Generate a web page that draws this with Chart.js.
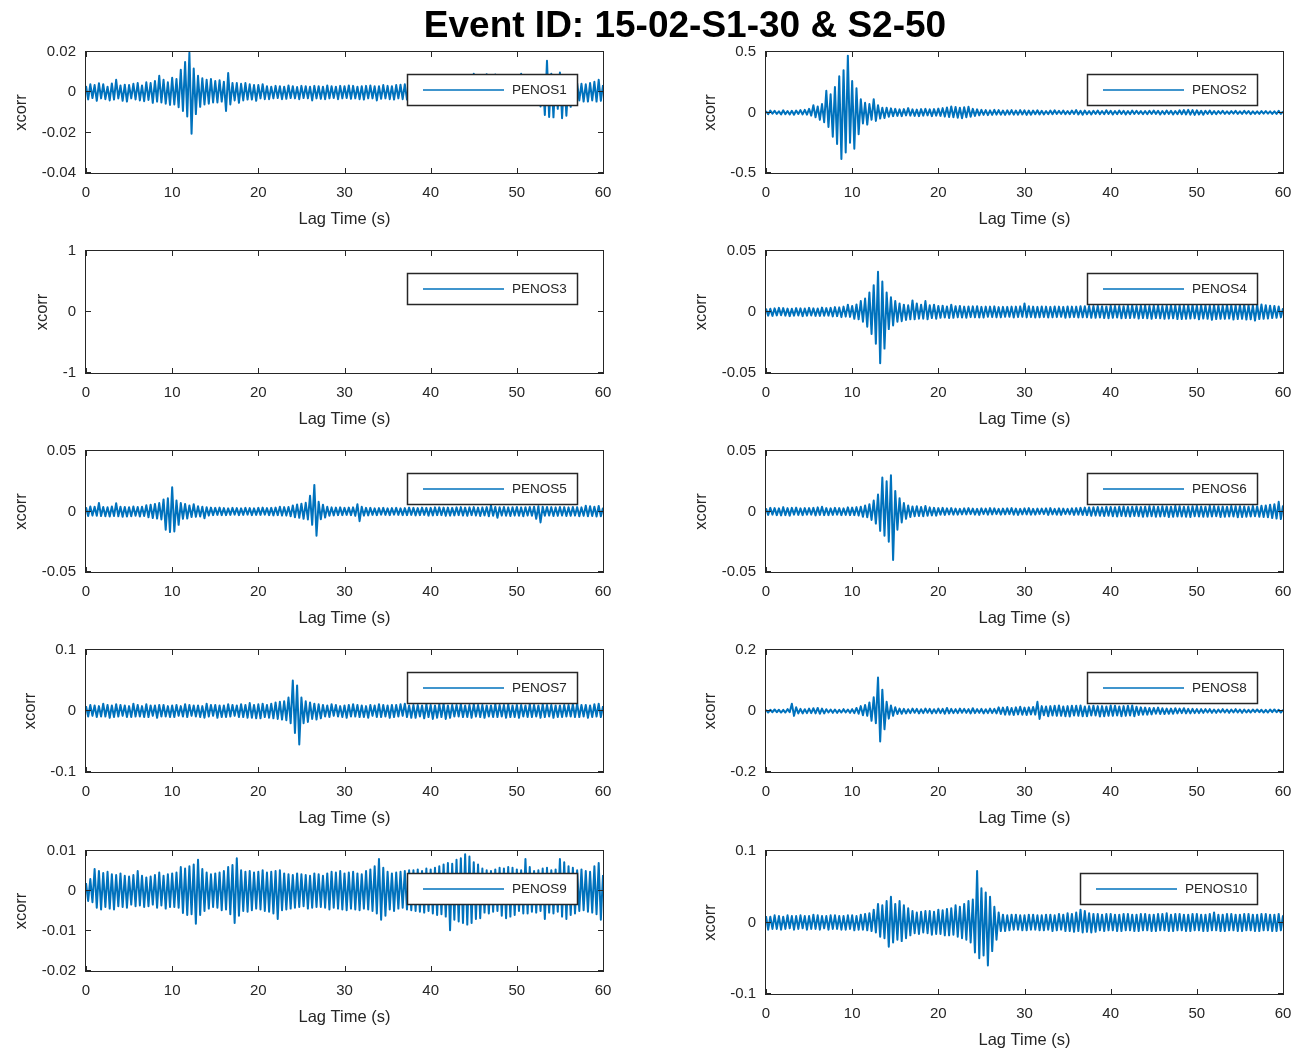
<!DOCTYPE html>
<html><head><meta charset="utf-8">
<script src="https://cdn.jsdelivr.net/npm/chart.js@4.4.1/dist/chart.umd.min.js"></script>
<style>
html,body{margin:0;padding:0;background:#fff;width:1298px;height:1052px;overflow:hidden;position:relative;}
canvas{position:absolute;}
#title{position:absolute;left:0;width:1370px;top:7px;line-height:36px;text-align:center;font-weight:bold;font-size:37px;font-family:"Liberation Sans",Arial,Helvetica,sans-serif;color:#000;z-index:5;}
</style></head><body>
<div id="title">Event ID: 15-02-S1-30 &amp; S2-50</div>
<script>
// ---- data: xcorr samples every 0.25 s from 0 to 60 s (values in the listed unit) ----
const lagStep = 0.25;
const xTicks = [0,10,20,30,40,50,60];

const unit1 = 1e-4;
const penos1 = [
32,-35,40,-28, 36,-42,45,-30, 40,-34,28,-40, 44,-36,62,-30, 34,-42,38,-46,
36,-30,42,-35, 46,-40,34,-44, 50,-38,46,-52, 56,-46,82,-50, 62,-56,50,-62,
72,-60,66,-74, 112,-92,150,-120, 196,-205,118,-108, 82,-72,70,-60, 62,-56,66,-50,
56,-50,60,-46, 52,-92,96,-60, 46,-40,46,-52, 42,-40,46,-36, 40,-36,36,-42,
36,-30,40,-34, 30,-34,28,-30, 32,-28,30,-34, 28,-32,34,-28, 30,-30,26,-34,
32,-28,30,-30, 28,-40,32,-30, 30,-32,28,-34, 34,-30,30,-28, 28,-34,32,-30,
30,-28,34,-32, 32,-30,28,-34, 30,-36,32,-30, 34,-30,30,-40, 30,-32,36,-30,
32,-34,30,-36, 36,-30,38,-34, 40,-36,42,-38, 44,-40,40,-42, 42,-44,46,-40,
46,-42,44,-46, 48,-44,50,-42, 46,-48,52,-44, 50,-46,48,-50, 52,-48,56,-46,
92,-50,54,-52, 56,-54,90,-50, 54,-52,88,-56, 58,-54,56,-52, 86,-56,60,-54,
58,-58,92,-56, 60,-56,58,-60, 56,-62,64,-70, 72,-112,156,-122, 92,-124,86,-82,
98,-128,82,-116, 62,-72,52,-46, 46,-40,42,-46, 40,-46,46,-40, 52,-46,62,-42, 36];

const unit2 = 1e-3;
const penos2 = [
12,-14,16,-10, 14,-12,10,-16, 18,-14,12,-16, 14,-18,16,-12, 20,-16,22,-18,
30,-26,60,-40, 50,-60,70,-80, 180,-120,150,-200, 210,-260,300,-385, 350,-330,470,-250,
260,-300,200,-180, 110,-90,80,-100, 70,-60,110,-70, 60,-50,40,-45, 40,-36,34,-30,
30,-28,26,-30, 28,-24,36,-26, 26,-28,24,-30, 28,-26,30,-24, 26,-30,28,-26,
32,-28,36,-34, 42,-38,50,-40, 46,-44,40,-48, 44,-40,48,-36, 30,-28,26,-24,
22,-20,20,-22, 18,-20,22,-18, 20,-18,16,-20, 18,-16,20,-18, 16,-18,20,-16,
18,-20,16,-18, 16,-14,18,-16, 14,-16,12,-14, 16,-14,18,-12, 14,-12,16,-14,
12,-14,16,-12, 20,-16,14,-18, 16,-14,12,-16, 14,-12,16,-14, 12,-14,18,-12,
14,-16,12,-14, 16,-12,14,-16, 12,-14,16,-12, 14,-12,12,-14, 12,-14,14,-12,
16,-12,14,-16, 12,-14,16,-12, 14,-16,12,-14, 18,-14,20,-16, 22,-18,20,-20,
18,-16,14,-18, 14,-12,16,-14, 12,-14,12,-10, 14,-12,10,-12, 12,-10,14,-12,
10,-12,14,-10, 12,-14,10,-12, 10,-12,12,-10, 12,-10,10,-12, 10,-12,14,-12, 8];

const unit3 = 1;
const penos3 = [];

const unit4 = 1e-4;
const penos4 = [
28,-30,26,-32, 30,-28,34,-26, 32,-30,28,-34, 26,-30,32,-28, 30,-34,28,-30,
34,-28,30,-32, 28,-32,36,-30, 32,-30,34,-36, 40,-34,38,-42, 44,-38,60,-40,
50,-56,62,-60, 90,-80,110,-120, 160,-180,220,-260, 330,-420,250,-300, 160,-140,120,-110,
90,-80,70,-75, 60,-65,55,-60, 95,-60,70,-55, 60,-55,90,-60, 55,-50,60,-55,
50,-48,52,-46, 46,-50,60,-48, 48,-44,50,-46, 44,-48,46,-42, 46,-44,48,-46,
42,-46,44,-40, 44,-42,46,-44, 40,-44,42,-40, 42,-40,44,-46, 44,-42,46,-40,
70,-44,48,-42, 44,-46,42,-44, 46,-42,44,-46, 42,-44,46,-42, 44,-40,42,-48,
46,-44,44,-42, 44,-46,48,-44, 48,-44,50,-48, 50,-48,52,-46, 48,-50,46,-52,
52,-48,50,-46, 50,-52,48,-50, 52,-50,54,-48, 50,-54,52,-50, 54,-52,50,-56,
52,-50,54,-52, 50,-56,52,-54, 56,-52,54,-58, 54,-58,52,-56, 56,-54,58,-52,
52,-60,56,-54, 54,-56,52,-64, 56,-58,54,-56, 52,-56,58,-54, 56,-62,54,-58,
58,-56,60,-62, 56,-60,54,-70, 60,-58,62,-56, 56,-54,52,-50, 50,-48,46,-44, 30];

const unit5 = 1e-4;
const penos5 = [
36,-38,42,-34, 40,-36,70,-38, 38,-40,36,-42, 42,-38,68,-40, 40,-44,38,-42,
36,-40,42,-36, 38,-42,40,-38, 52,-48,56,-54, 62,-58,70,-66, 100,-150,110,-170,
200,-165,90,-110, 70,-60,62,-58, 50,-46,60,-44, 44,-42,40,-56, 36,-34,32,-30,
30,-28,32,-30, 28,-30,26,-28, 30,-26,28,-30, 26,-28,30,-26, 28,-30,26,-28,
30,-28,32,-26, 28,-30,30,-32, 32,-30,40,-34, 36,-34,38,-40, 50,-48,58,-52,
64,-60,72,-66, 130,-110,220,-200, 80,-64,56,-50, 40,-36,34,-32, 32,-30,34,-30,
30,-28,32,-30, 34,-36,60,-80, 40,-34,30,-32, 30,-28,26,-30, 28,-26,30,-28,
26,-30,28,-26, 30,-28,26,-30, 28,-30,32,-28, 30,-32,28,-30, 32,-28,30,-34,
30,-32,34,-30, 34,-30,32,-36, 32,-34,30,-32, 34,-30,36,-34, 32,-36,34,-30,
36,-34,32,-38, 34,-32,36,-40, 50,-36,38,-52, 36,-34,38,-36, 34,-38,36,-34,
38,-36,34,-40, 36,-34,38,-36, 40,-60,44,-90, 40,-36,38,-34, 36,-38,34,-36,
38,-34,36,-38, 34,-36,38,-34, 36,-40,34,-36, 48,-40,44,-38, 40,-42,46,-40, 30];

const unit6 = 1e-4;
const penos6 = [
26,-28,30,-26, 28,-30,26,-32, 36,-30,28,-34, 30,-26,32,-28, 26,-30,28,-26,
28,-26,30,-32, 34,-28,40,-30, 28,-30,26,-28, 30,-26,28,-30, 26,-28,34,-30,
32,-30,36,-34, 40,-44,50,-48, 60,-70,90,-100, 140,-160,280,-200, 250,-250,300,-400,
170,-150,110,-90, 70,-60,50,-46, 42,-40,44,-38, 38,-40,46,-36, 34,-32,30,-34,
28,-26,30,-28, 26,-24,28,-26, 24,-26,22,-24, 26,-24,28,-22, 24,-26,22,-28,
26,-22,24,-26, 28,-24,26,-22, 22,-26,24,-24, 26,-22,28,-26, 24,-28,22,-24,
26,-24,28,-26, 22,-26,24,-22, 24,-22,26,-28, 28,-24,22,-26, 26,-28,24,-22,
22,-24,26,-28, 28,-26,30,-28, 32,-30,34,-36, 36,-34,38,-36, 34,-38,40,-36,
38,-40,36,-42, 40,-38,42,-40, 38,-42,40,-38, 42,-40,38,-44, 40,-42,44,-40,
42,-44,40,-42, 44,-40,42,-46, 40,-44,46,-42, 44,-42,40,-44, 42,-46,44,-40,
46,-42,42,-44, 40,-44,46,-42, 44,-40,42,-46, 42,-44,40,-42, 46,-42,44,-48,
44,-46,42,-44, 40,-42,46,-40, 42,-44,48,-46, 50,-48,56,-54, 60,-58,80,-62, 50];

const unit7 = 1e-3;
const penos7 = [
8,-9,10,-8, 9,-10,8,-9, 12,-9,10,-11, 9,-10,11,-9, 10,-8,9,-10,
8,-10,12,-9, 10,-9,8,-10, 11,-10,9,-8, 9,-11,10,-9, 10,-9,8,-10,
9,-10,10,-8, 8,-9,11,-10, 10,-8,9,-9, 9,-10,8,-11, 12,-9,10,-8,
10,-11,9,-10, 9,-10,11,-9, 10,-8,9,-10, 11,-10,10,-11, 13,-11,10,-12,
11,-12,12,-10, 10,-11,12,-12, 14,-13,15,-14, 16,-15,22,-20, 50,-36,42,-55,
22,-20,16,-18, 14,-13,12,-14, 11,-12,10,-9, 9,-10,11,-8, 10,-9,8,-10,
9,-11,10,-9, 11,-9,10,-10, 9,-10,8,-11, 10,-8,9,-10, 11,-10,10,-9,
9,-11,10,-10, 10,-9,11,-8, 12,-10,9,-11, 10,-11,10,-9, 9,-12,11,-10,
10,-13,9,-11, 11,-10,12,-13, 9,-11,10,-9, 10,-9,11,-10, 9,-10,10,-11,
11,-9,10,-10, 10,-11,9,-9, 9,-10,11,-10, 10,-9,10,-11, 11,-10,9,-10,
10,-11,10,-9, 9,-10,11,-10, 10,-9,9,-11, 11,-10,10,-9, 10,-11,9,-10,
9,-10,10,-9, 10,-9,11,-10, 12,-10,10,-9, 10,-11,9,-10, 11,-9,12,-10, 8];

const unit8 = 1e-3;
const penos8 = [
4,-5,4,-4, 5,-4,4,-5, 4,-5,6,-4, 24,-16,12,-8, 7,-8,6,-7,
8,-7,9,-8, 10,-9,8,-8, 6,-5,5,-6, 5,-6,4,-5, 6,-5,5,-6,
6,-7,10,-9, 16,-14,20,-16, 28,-32,45,-40, 110,-100,70,-60, 30,-25,18,-16,
12,-10,8,-9, 7,-8,6,-7, 8,-6,7,-8, 6,-7,8,-6, 7,-8,6,-7,
8,-7,7,-9, 10,-8,7,-7, 6,-7,8,-6, 7,-6,6,-8, 9,-7,6,-6,
7,-8,6,-7, 8,-7,7,-8, 12,-10,11,-12, 13,-12,10,-13, 12,-11,14,-12,
11,-13,12,-11, 13,-12,30,-26, 16,-14,15,-17, 16,-15,17,-16, 18,-16,15,-17,
16,-18,17,-15, 17,-16,18,-17, 15,-17,16,-15, 17,-15,16,-18, 16,-17,15,-16,
18,-16,17,-15, 15,-17,16,-16, 17,-15,18,-17, 14,-13,12,-12, 11,-12,10,-11,
10,-9,11,-10, 9,-10,8,-9, 8,-9,9,-8, 8,-7,9,-8, 7,-8,7,-7,
6,-7,6,-6, 6,-5,6,-6, 5,-6,5,-5, 6,-5,5,-6, 5,-5,6,-5,
5,-6,5,-5, 4,-5,5,-4, 5,-4,4,-5, 4,-5,5,-4, 5,-4,4,-5, 4];

const unit9 = 1e-4;
const penos9 = [
20,-25,30,-28, 55,-42,50,-46, 45,-40,48,-44, 42,-46,40,-38, 44,-40,38,-42,
36,-34,40,-38, 50,-36,38,-40, 34,-38,36,-34, 40,-42,46,-36, 38,-44,42,-40,
44,-40,46,-42, 60,-55,56,-60, 62,-58,66,-82, 78,-60,55,-50, 46,-44,42,-40,
44,-42,46,-48, 50,-46,60,-58, 65,-80,82,-62, 52,-50,48,-52, 50,-48,46,-44,
48,-46,52,-50, 46,-52,48,-56, 50,-70,52,-48, 44,-46,42,-44, 40,-42,44,-40,
42,-38,40,-44, 38,-42,44,-40, 42,-40,38,-42, 44,-46,48,-42, 46,-44,50,-46,
44,-48,46,-44, 48,-46,44,-48, 42,-44,50,-46, 54,-50,62,-56, 80,-72,58,-62,
48,-46,44,-50, 46,-44,48,-42, 50,-46,52,-48, 52,-50,54,-52, 50,-54,56,-50,
54,-56,58,-60, 62,-58,66,-64, 70,-98,68,-72, 78,-76,82,-80, 92,-84,86,-80,
72,-70,66,-68, 56,-54,52,-56, 50,-52,54,-50, 58,-62,56,-68, 60,-64,58,-60,
54,-50,52,-56, 80,-56,60,-52, 50,-54,52,-50, 56,-70,58,-54, 52,-56,54,-52,
80,-64,72,-70, 62,-60,58,-56, 52,-50,54,-48, 50,-52,48,-54, 62,-58,70,-72, 40];

const unit10 = 1e-3;
const penos10 = [
9,-10,8,-9, 10,-9,9,-10, 8,-9,10,-8, 9,-10,9,-9, 10,-8,9,-10,
9,-9,11,-9, 10,-10,9,-8, 9,-10,10,-9, 10,-9,9,-10, 9,-10,10,-9,
10,-11,9,-10, 11,-10,12,-11, 13,-12,18,-14, 26,-20,24,-22, 30,-34,36,-28,
26,-24,30,-26, 24,-22,20,-18, 16,-15,14,-16, 15,-14,16,-15, 16,-17,15,-16,
18,-16,17,-18, 19,-18,20,-17, 24,-20,22,-22, 26,-24,30,-28, 32,-42,72,-50,
48,-46,42,-60, 36,-40,22,-24, 14,-12,11,-12, 10,-11,11,-10, 11,-10,10,-11,
10,-11,11,-10, 11,-10,10,-11, 10,-11,11,-10, 11,-12,10,-11, 12,-10,11,-12,
13,-12,12,-13, 14,-12,18,-14, 16,-13,13,-14, 12,-13,12,-11, 11,-12,12,-11,
12,-11,11,-12, 11,-12,12,-11, 12,-11,11,-12, 11,-12,12,-11, 12,-11,11,-12,
11,-12,12,-11, 12,-11,13,-12, 11,-12,12,-11, 12,-11,11,-12, 11,-12,12,-11,
12,-11,11,-12, 11,-12,12,-11, 14,-11,11,-12, 11,-12,12,-11, 12,-11,11,-12,
11,-12,12,-11, 12,-11,11,-12, 11,-12,12,-11, 12,-11,11,-12, 11,-12,12,-11, 10];

const stationNames = ['PENOS1','PENOS2','PENOS3','PENOS4','PENOS5','PENOS6','PENOS7','PENOS8','PENOS9','PENOS10'];
const stationValues = [penos1,penos2,penos3,penos4,penos5,penos6,penos7,penos8,penos9,penos10];
const stationUnits = [unit1,unit2,unit3,unit4,unit5,unit6,unit7,unit8,unit9,unit10];
const yLimits = [[-0.04,0.02],[-0.5,0.5],[-1,1],[-0.05,0.05],[-0.05,0.05],[-0.05,0.05],[-0.1,0.1],[-0.2,0.2],[-0.02,0.01],[-0.1,0.1]];
const yTickLists = [
  [-0.04,-0.02,0,0.02],[-0.5,0,0.5],[-1,0,1],[-0.05,0,0.05],[-0.05,0,0.05],
  [-0.05,0,0.05],[-0.1,0,0.1],[-0.2,0,0.2],[-0.02,-0.01,0,0.01],[-0.1,0,0.1]];

// ---- layout (plot-box positions in page pixels) ----
const boxes = [
  {left:86,top:52,h:121},{left:766,top:52,h:121},
  {left:86,top:251,h:122},{left:766,top:251,h:122},
  {left:86,top:451,h:121},{left:766,top:451,h:121},
  {left:86,top:650,h:122},{left:766,top:650,h:122},
  {left:86,top:851,h:120},{left:766,top:851,h:143}];
const PLOT_W = 517, AX_W = 86, PAD_R = 12, PAD_T = 16, AX_H = 60;

const FONT = '"Liberation Sans", Arial, Helvetica, sans-serif';
const TEXT = '#262626';
const LINE = '#0072BD';
const TICK_SIZE = 15, LABEL_SIZE = 16.5, LEGEND_SIZE = 13.5;

const measureCtx = document.createElement('canvas').getContext('2d');
measureCtx.font = TICK_SIZE + 'px ' + FONT;

const framePlugin = {
  id: 'matlabFrame',
  afterDatasetsDraw(chart) {
    const {ctx, chartArea: a, scales} = chart;
    const name = chart.data.datasets[0].label;
    ctx.save();
    // legend box (northeast, opaque)
    ctx.font = LEGEND_SIZE + 'px ' + FONT;
    const tw = ctx.measureText(name).width;
    const bw = Math.round(16 + 81 + 8 + tw + 10), bh = 31;
    const bx = Math.round(a.right - 26 - bw), by = Math.round(a.top + 22);
    ctx.fillStyle = '#fff';
    ctx.fillRect(bx, by, bw, bh);
    ctx.strokeStyle = '#262626'; ctx.lineWidth = 1.5;
    ctx.strokeRect(bx + 0.5, by + 0.5, bw, bh);
    ctx.strokeStyle = LINE; ctx.lineWidth = 1.5;
    ctx.beginPath(); ctx.moveTo(bx + 16, by + bh / 2 + 0.5); ctx.lineTo(bx + 97, by + bh / 2 + 0.5); ctx.stroke();
    ctx.fillStyle = TEXT; ctx.textBaseline = 'middle'; ctx.textAlign = 'left';
    ctx.fillText(name, bx + 105, by + bh / 2 + 1);
    // axes box
    ctx.strokeStyle = '#262626'; ctx.lineWidth = 1;
    ctx.strokeRect(a.left - 0.5, a.top - 0.5, a.width + 1, a.height + 1);
    // inward ticks on all four sides
    ctx.beginPath();
    for (const v of xTicks) {
      const px = Math.round(scales.x.getPixelForValue(v)) + 0.5;
      ctx.moveTo(px, a.bottom); ctx.lineTo(px, a.bottom - 5);
      ctx.moveTo(px, a.top); ctx.lineTo(px, a.top + 5);
    }
    for (const v of chart.options.scales.y.tickList) {
      const py = Math.round(scales.y.getPixelForValue(v)) - 0.5;
      ctx.moveTo(a.left, py); ctx.lineTo(a.left + 5, py);
      ctx.moveTo(a.right, py); ctx.lineTo(a.right - 5, py);
    }
    ctx.stroke();
    ctx.restore();
  }
};

stationNames.forEach((name, i) => {
  const b = boxes[i];
  const cv = document.createElement('canvas');
  const W = AX_W + PLOT_W + PAD_R, H = PAD_T + b.h + AX_H;
  cv.width = W; cv.height = H;
  cv.style.left = (b.left - AX_W) + 'px';
  cv.style.top = (b.top - PAD_T) + 'px';
  cv.style.width = W + 'px'; cv.style.height = H + 'px';
  document.body.appendChild(cv);

  const ticks = yTickLists[i];
  const maxLabelW = Math.max(...ticks.map(v => measureCtx.measureText(String(v)).width));
  const titlePadTop = Math.max(0, 56 - maxLabelW - LABEL_SIZE * 0.6);
  const unit = stationUnits[i];
  const points = stationValues[i].map((v, k) => ({x: k * lagStep, y: v * unit}));

  new Chart(cv, {
    type: 'line',
    data: {datasets: [{label: name, data: points, borderColor: LINE, borderWidth: 2,
      borderJoinStyle: 'round', pointRadius: 0, tension: 0, fill: false}]},
    options: {
      responsive: false, animation: false, devicePixelRatio: 1,
      layout: {padding: {left: 0, right: PAD_R, top: PAD_T, bottom: 0}},
      plugins: {legend: {display: false}, tooltip: {enabled: false}},
      scales: {
        x: {
          type: 'linear', min: 0, max: 60,
          afterBuildTicks: s => { s.ticks = xTicks.map(v => ({value: v})); },
          afterFit: s => { s.height = AX_H; s.paddingLeft = 0; s.paddingRight = 0; },
          grid: {display: false, drawTicks: false}, border: {display: false},
          ticks: {color: TEXT, font: {family: FONT, size: TICK_SIZE}, padding: 11,
            maxRotation: 0, autoSkip: false, callback: v => String(v)},
          title: {display: true, text: 'Lag Time (s)', color: TEXT,
            font: {family: FONT, size: LABEL_SIZE}, padding: {top: 0, bottom: 4}}
        },
        y: {
          type: 'linear', min: yLimits[i][0], max: yLimits[i][1], tickList: ticks,
          afterBuildTicks: s => { s.ticks = ticks.map(v => ({value: v})); },
          afterFit: s => { s.width = AX_W; s.paddingTop = 0; s.paddingBottom = 0; },
          grid: {display: false, drawTicks: false}, border: {display: false},
          ticks: {color: TEXT, font: {family: FONT, size: TICK_SIZE}, padding: 10,
            autoSkip: false, callback: v => String(v)},
          title: {display: true, text: 'xcorr', color: TEXT,
            font: {family: FONT, size: LABEL_SIZE}, padding: {top: titlePadTop, bottom: 0}}
        }
      }
    },
    plugins: [framePlugin]
  });
});
</script>
</body></html>
